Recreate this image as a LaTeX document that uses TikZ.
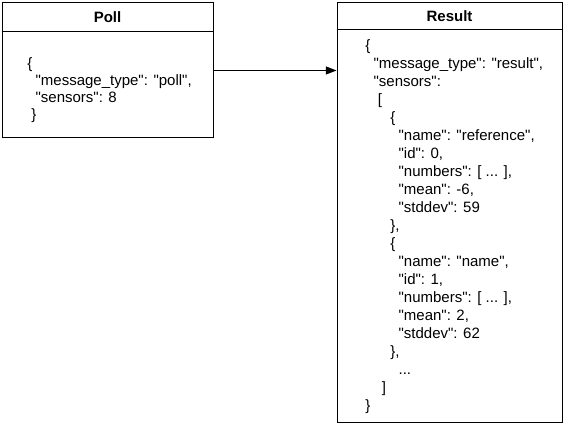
\documentclass[tikz,border=0pt]{standalone}
\usepackage{fontspec}
\setmainfont{Liberation Sans}[Ligatures=TeXOff]
\usetikzlibrary{arrows.meta}
\newlength\jsonsp
\setlength\jsonsp{3.125pt}
\newcommand\ind[1]{\hspace*{#1\jsonsp}}
\tikzset{
  card/.style={draw=black, line width=0.75pt, fill=white, inner sep=0pt},
  headtext/.style={font=\fontsize{11.25}{13.5}\selectfont\bfseries, inner sep=0pt},
  bodytext/.style={align=left, anchor=west, inner sep=0pt},
  link/.style={draw=black, line width=0.75pt, -{Stealth[length=8pt,width=6pt,inset=0pt]}}
}
\begin{document}
\begin{tikzpicture}[x=0.75pt,y=-0.75pt]
\useasboundingbox (0,0) rectangle (564,427);
% boxes
\node[card, minimum width=158.25pt, minimum height=101.25pt] (poll) at (107.5,70.5) {};
\node[card, minimum width=168.75pt, minimum height=315pt] (result) at (449.5,213) {};
% header dividers
\draw[line width=0.75pt] ([yshift=-21.75pt]poll.north west) -- ([yshift=-21.75pt]poll.north east);
\draw[line width=0.75pt] ([yshift=-20.25pt]result.north west) -- ([yshift=-20.25pt]result.north east);
% titles
\node[headtext] (polltitle) at (107.5,17.5) {Poll};
\node[headtext] (resulttitle) at (449.5,16.5) {Result};
% bodies
\node[bodytext, font=\fontsize{11.25}{12.75}\selectfont] (pollbody) at (27,90.5) {%
\{\\
\ind{2}"message\_type": "poll",\\
\ind{2}"sensors": 8\\
\ind{1}\}};
\node[bodytext, font=\fontsize{11.25}{13.5}\selectfont] (resultbody) at (365,226.5) {%
\{\\
\ind{2}"message\_type": "result",\\
\ind{2}"sensors":\\
\ind{3}[\\
\ind{6}\{\\
\ind{8}"name": "reference",\\
\ind{8}"id": 0,\\
\ind{8}"numbers": [ ... ],\\
\ind{8}"mean": -6,\\
\ind{8}"stddev": 59\\
\ind{6}\},\\
\ind{6}\{\\
\ind{8}"name": "name",\\
\ind{8}"id": 1,\\
\ind{8}"numbers": [ ... ],\\
\ind{8}"mean": 2,\\
\ind{8}"stddev": 62\\
\ind{6}\},\\
\ind{8}...\\
\ind{4}]\\
\ind{0}\}};
% connector
\draw[link] (poll.east) -- (poll.east -| result.west);
\end{tikzpicture}
\end{document}
